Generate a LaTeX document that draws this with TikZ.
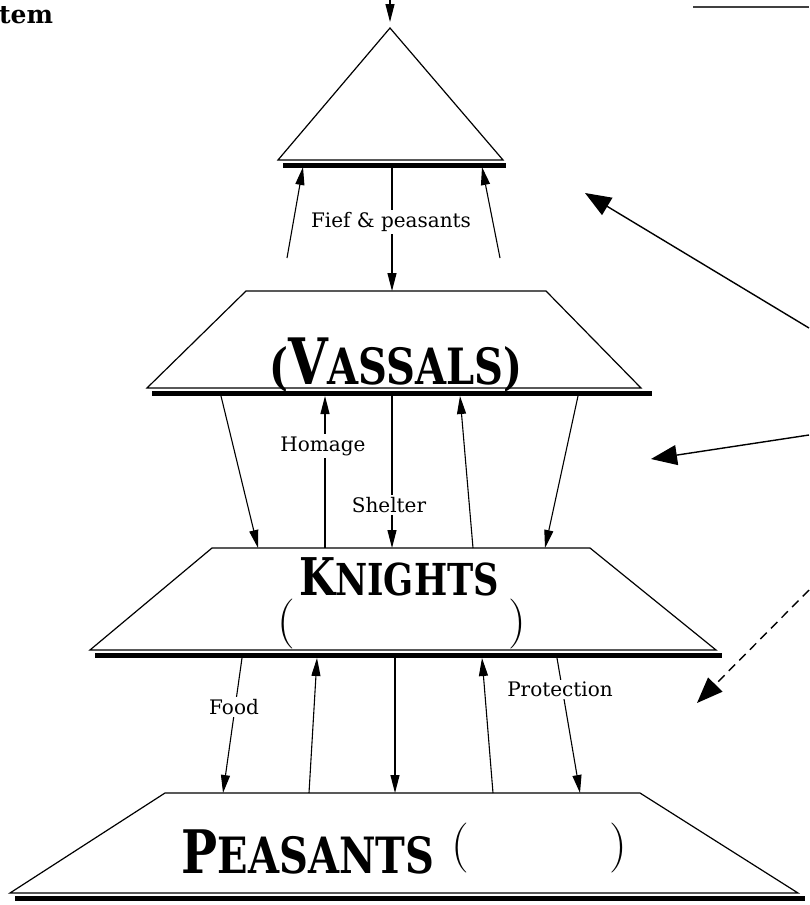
\documentclass[tikz,border=0pt]{standalone}
\usepackage{fontspec}
\setmainfont{DejaVu Serif}
\newfontfamily\parenfont{Latin Modern Roman}
\usetikzlibrary{arrows.meta}

\begin{document}
\begin{tikzpicture}
    [x=1pt, y=-1pt,
    tier/.style={draw=black, line width=1.2pt, fill=white},
    bar/.style={line width=5pt},
    flow/.style={line width=1.1pt, -{Triangle[length=18pt,width=9pt]}},
    lbl/.style={fill=white, inner sep=2pt, font=\fontsize{20}{20}\selectfont},
    title/.style={inner sep=0pt, xscale=0.8, font=\bfseries\fontsize{44}{44}\selectfont},
    paren/.style={inner sep=0pt, font=\parenfont\fontsize{50}{50}\selectfont},
    pointer/.style={line width=1.4pt, -{Triangle[length=26pt,width=20pt]}}]

    \useasboundingbox (0,0) rectangle (809,905);

    % corner remains of the page
    \node[anchor=west, inner sep=0pt, font=\bfseries\fontsize{25}{25}\selectfont] (ttl) at (-1,15) {tem};
    \coordinate (r1) at (693,7);
    \coordinate (r2) at (809,7);
    \draw[line width=1.2pt, black!75] (r1) -- (r2);

    % king
    \coordinate (top) at (390,-4);
    \coordinate (apex) at (390,28);
    \draw[tier] (apex) -- (278,160) -- (503,160) -- cycle;
    \draw[bar] (283,165) -- (506,165);
    \draw[flow, shorten >=6pt] (top) -- (apex);

    % vassals
    \draw[tier] (246,291) -- (546,291) -- (641,388) -- (147,388) -- cycle;
    \draw[bar] (152,393) -- (652,393);
    \node[title, font=\bfseries\fontsize{50}{50}\selectfont] (vassals) at (396,365) {({\fontsize{64}{64}\selectfont V}ASSALS)};

    % knights
    \draw[tier] (212,548) -- (590,548) -- (716,650) -- (90,650) -- cycle;
    \draw[bar] (95,655) -- (722,655);
    \node[title] (knights) at (399,577) {{\fontsize{52}{52}\selectfont K}NIGHTS};
    \node[paren] (kopen) at (286,624) {(};
    \node[paren] (kclose) at (517,624) {)};

    % peasants
    \draw[tier] (165,793) -- (640,793) -- (798,893) -- (10,893) -- cycle;
    \draw[bar] (15,898) -- (805,898);
    \node[title, font=\bfseries\fontsize{50}{50}\selectfont] (peasants) at (308,852) {{\fontsize{60}{60}\selectfont P}EASANTS};
    \node[paren] (popen) at (460,848) {(};
    \node[paren] (pclose) at (618,848) {)};

    % king - vassals
    \coordinate (f1a) at (287,258);
    \coordinate (f1b) at (303,167);
    \coordinate (f2a) at (392,167);
    \coordinate (f2b) at (392,291);
    \coordinate (f3a) at (500,258);
    \coordinate (f3b) at (482,167);
    \draw[flow] (f1a) -- (f1b);
    \draw[flow] (f2a) -- (f2b);
    \draw[flow] (f3a) -- (f3b);
    \node[lbl] (fief) at (391,222) {Fief \& peasants};

    % vassals - knights
    \coordinate (v1a) at (221,396);
    \coordinate (v1b) at (258,548);
    \coordinate (v2a) at (325,548);
    \coordinate (v2b) at (325,396);
    \coordinate (v3a) at (392,396);
    \coordinate (v3b) at (392,548);
    \coordinate (v4a) at (473,548);
    \coordinate (v4b) at (460,396);
    \coordinate (v5a) at (578,396);
    \coordinate (v5b) at (545,548);
    \draw[flow] (v1a) -- (v1b);
    \draw[flow] (v2a) -- (v2b);
    \draw[flow] (v3a) -- (v3b);
    \draw[flow] (v4a) -- (v4b);
    \draw[flow] (v5a) -- (v5b);
    \node[lbl] (homage) at (323,446) {Homage};
    \node[lbl] (shelter) at (389,505) {Shelter};

    % knights - peasants
    \coordinate (k1a) at (242,658);
    \coordinate (k1b) at (223,793);
    \coordinate (k2a) at (309,793);
    \coordinate (k2b) at (317,658);
    \coordinate (k3a) at (395,658);
    \coordinate (k3b) at (395,793);
    \coordinate (k4a) at (493,793);
    \coordinate (k4b) at (482,658);
    \coordinate (k5a) at (557,658);
    \coordinate (k5b) at (580,793);
    \draw[flow] (k1a) -- (k1b);
    \draw[flow] (k2a) -- (k2b);
    \draw[flow] (k3a) -- (k3b);
    \draw[flow] (k4a) -- (k4b);
    \draw[flow] (k5a) -- (k5b);
    \node[lbl] (food) at (234,707) {Food};
    \node[lbl] (protect) at (560,689) {Protection};

    % pointers from the right
    \coordinate (p1) at (809,328);
    \coordinate (p1t) at (585,193);
    \coordinate (p2) at (809,435);
    \coordinate (p2t) at (651,459);
    \coordinate (p3) at (809,590);
    \coordinate (p3t) at (697,703);
    \draw[pointer] (p1) -- (p1t);
    \draw[pointer] (p2) -- (p2t);
    \draw[pointer, dash pattern=on 9pt off 6pt] (p3) -- (p3t);

\end{tikzpicture}
\end{document}
